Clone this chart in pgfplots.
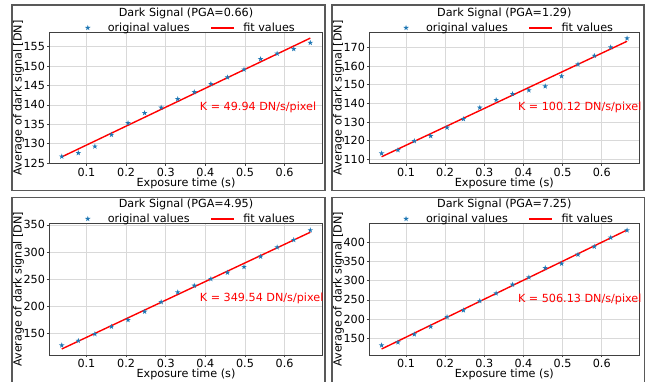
\documentclass[border=0pt]{standalone}
\usepackage{pgfplots}
\usepackage{pgfplotstable}
\pgfplotsset{compat=1.18}
\usepackage{fontspec}
\setmainfont{DejaVu Sans}
\definecolor{mplblue}{HTML}{1F77B4}
\definecolor{mplred}{HTML}{FF0000}
\pgfdeclareplotmark{mstar}{%
\pgfpathmoveto{\pgfqpoint{0pt}{2.9pt}}%
\pgfpathlineto{\pgfqpoint{0.65pt}{0.9pt}}%
\pgfpathlineto{\pgfqpoint{2.76pt}{0.9pt}}%
\pgfpathlineto{\pgfqpoint{1.06pt}{-0.34pt}}%
\pgfpathlineto{\pgfqpoint{1.7pt}{-2.35pt}}%
\pgfpathlineto{\pgfqpoint{0pt}{-1.11pt}}%
\pgfpathlineto{\pgfqpoint{-1.7pt}{-2.35pt}}%
\pgfpathlineto{\pgfqpoint{-1.06pt}{-0.34pt}}%
\pgfpathlineto{\pgfqpoint{-2.76pt}{0.9pt}}%
\pgfpathlineto{\pgfqpoint{-0.65pt}{0.9pt}}%
\pgfpathclose\pgfusepathqfill}
\pgfplotstableread{
x a b c d
0.0377 126.7 113.2 127.8 131.8
0.0795 127.6 115.0 136.3 139.6
0.1213 129.3 119.8 148.8 160.4
0.1631 132.3 122.5 162.3 180.4
0.2049 135.3 127.0 174.6 205.6
0.2467 137.9 131.6 190.0 223.0
0.2885 139.3 137.7 207.8 247.3
0.3303 141.5 141.8 225.7 267.2
0.3721 143.3 145.0 238.0 289.8
0.4139 145.4 147.0 250.3 308.9
0.4557 147.1 149.1 262.0 333.2
0.4975 149.1 154.5 272.5 344.5
0.5393 151.8 160.9 291.5 367.9
0.5811 153.2 165.5 308.8 388.7
0.6229 154.4 170.0 322.3 412.2
0.6647 156.0 174.8 340.2 431.3
}\dsdata
\tikzset{ktext/.style={anchor=west, inner sep=0pt, text=mplred, font=\fontsize{11.2}{13}\selectfont}}
\pgfplotsset{
  panel/.style={
    scale only axis,
    anchor=south west,
    clip=false,
    font=\fontsize{11.2}{13}\selectfont,
    /pgf/number format/assume math mode=true,
    xmin=0.0063, xmax=0.696,
    xtick={0.1,0.2,0.3,0.4,0.5,0.6},
    xticklabel style={/pgf/number format/.cd,fixed,precision=1},
    scaled x ticks=false,
    scaled y ticks=false,
    yticklabel style={/pgf/number format/.cd,fixed,precision=0},
    tick label style={inner sep=1.7pt},
    grid=major,
    major grid style={gray!30, line width=0.6pt},
    axis line style={black!75, line width=0.6pt},
    tick align=outside,
    tick pos=left,
    major tick length=2.5pt,
    tick style={black!75, line width=0.6pt},
    xlabel={Exposure time (s)},
    ylabel={Average of dark signal [DN]},
    xlabel style={inner sep=0pt, yshift=0.3pt},
    ylabel style={inner sep=0pt, yshift=-2.3pt},
    every axis title shift=0pt,
    title style={at={(0.5,1)}, anchor=base, inner sep=0pt, yshift=15.5pt},
    legend columns=2,
    legend style={at={(0.5,1)}, anchor=south, draw=none, fill=none, inner sep=0pt, yshift=-1.8pt,
      nodes={inner sep=1pt},
      /tikz/every odd column/.append style={column sep=7.5pt},
      /tikz/every even column/.append style={column sep=19.7pt}},
  },
  ptsstyle/.style={only marks, mark=mstar, color=mplblue,
    legend image code/.code={\path[draw=none, fill=none] (0pt,-2pt) rectangle (23pt,2pt);
      \draw[##1, mark repeat=1] plot coordinates {(11.5pt,0pt)};}},
  fitstyle/.style={no marks, color=mplred, line width=1.4pt,
    legend image code/.code={\draw[mplred, line width=1.5pt] (0pt,0pt) -- (23pt,0pt);}},
}
\begin{document}
\begin{tikzpicture}
\draw[black!65, line width=1.1pt] (12pt,191.3pt) rectangle (325pt,377pt);
\draw[black!65, line width=1.1pt] (332pt,191.3pt) rectangle (644pt,377pt);
\draw[black!65, line width=1.1pt] (12pt,-2pt) rectangle (325pt,184.3pt);
\draw[black!65, line width=1.1pt] (332pt,-2pt) rectangle (644.3pt,184.3pt);

\begin{axis}[panel, at={(49.3pt,218.7pt)}, width=273.4pt, height=131pt,
  ymin=124.95, ymax=158.7, ytick={125,130,135,140,145,150,155},
  title={Dark Signal (PGA=0.66)}]
\addplot[ptsstyle] table[x=x,y=a]{\dsdata};
\addlegendentry{original values}
\addplot[fitstyle] coordinates {(0.0377,126.6) (0.6647,157.2)};
\addlegendentry{fit values}
\node[ktext] at (rel axis cs:0.55,0.43) {K = 49.94 DN/s/pixel};
\end{axis}

\begin{axis}[panel, at={(369.3pt,218.7pt)}, width=270pt, height=131pt,
  ymin=107.9, ymax=178, ytick={110,120,130,140,150,160,170},
  title={Dark Signal (PGA=1.29)}]
\addplot[ptsstyle] table[x=x,y=b]{\dsdata};
\addlegendentry{original values}
\addplot[fitstyle] coordinates {(0.0377,111.4) (0.6647,173.2)};
\addlegendentry{fit values}
\node[ktext] at (rel axis cs:0.55,0.43) {K = 100.12 DN/s/pixel};
\end{axis}

\begin{axis}[panel, at={(49.3pt,27pt)}, width=273.4pt, height=131.7pt,
  ymin=110, ymax=353, ytick={150,200,250,300,350},
  title={Dark Signal (PGA=4.95)}]
\addplot[ptsstyle] table[x=x,y=c]{\dsdata};
\addlegendentry{original values}
\addplot[fitstyle] coordinates {(0.0377,121.1) (0.6647,336.5)};
\addlegendentry{fit values}
\node[ktext] at (rel axis cs:0.55,0.43) {K = 349.54 DN/s/pixel};
\end{axis}

\begin{axis}[panel, at={(369.3pt,27pt)}, width=270pt, height=131.7pt,
  ymin=106.6, ymax=449.5, ytick={150,200,250,300,350,400},
  title={Dark Signal (PGA=7.25)}]
\addplot[ptsstyle] table[x=x,y=d]{\dsdata};
\addlegendentry{original values}
\addplot[fitstyle] coordinates {(0.0377,122.2) (0.6647,432.1)};
\addlegendentry{fit values}
\node[ktext] at (rel axis cs:0.55,0.42) {K = 506.13 DN/s/pixel};
\end{axis}
\pgfresetboundingbox
\path[use as bounding box] (0,0) rectangle (653pt,382pt);
\end{tikzpicture}
\end{document}
